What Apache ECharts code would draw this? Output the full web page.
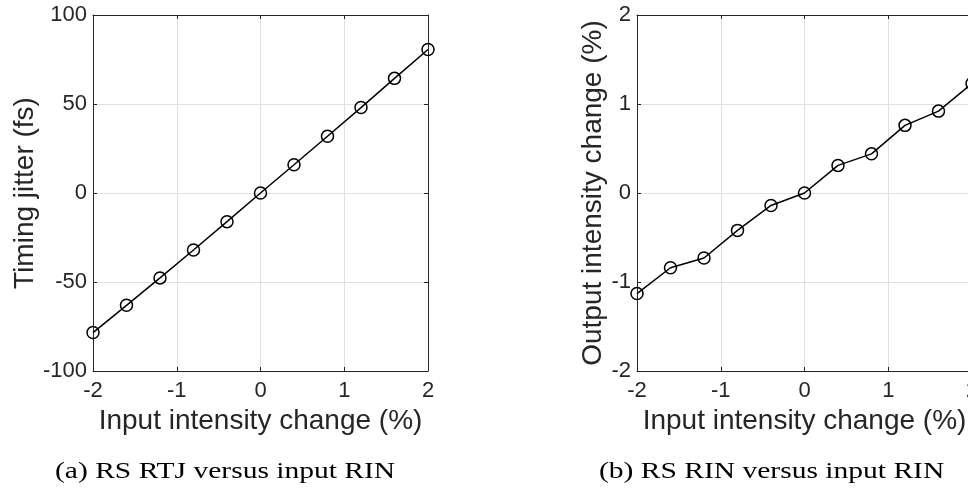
<!DOCTYPE html>
<html>
<head>
<meta charset="utf-8">
<script src="https://cdn.jsdelivr.net/npm/echarts@6/dist/echarts.min.js"></script>
<style>
  html, body { margin: 0; padding: 0; background: #fff; }
  #chart { width: 968px; height: 491px; }
</style>
</head>
<body>
<div id="chart"></div>
<script>
// Input intensity change (%) at which both quantities were sampled
const inputChange = [-2, -1.6, -1.2, -0.8, -0.4, 0, 0.4, 0.8, 1.2, 1.6, 2];
// (a) retimed timing jitter (fs)
const timingJitter = [-78.4, -63.1, -47.7, -32.0, -16.1, 0, 15.9, 31.9, 48.0, 64.4, 80.6];
// (b) output intensity change (%)
const outputChange = [-1.13, -0.84, -0.73, -0.42, -0.14, 0, 0.31, 0.44, 0.76, 0.92, 1.23];

const xTicks = { min: -2, max: 2, interval: 1 };
const jitterTicks = { min: -100, max: 100, interval: 50 };
const outputTicks = { min: -2, max: 2, interval: 1 };

const captionA = '(a) RS RTJ versus input RIN';
const captionB = '(b) RS RIN versus input RIN';
const xTitle = 'Input intensity change (%)';
const yTitleA = 'Timing jitter (fs)';
const yTitleB = 'Output intensity change (%)';

const INK = '#262626';
const GRID = '#dfdfdf';
const SANS = '"Liberation Sans", Arial, sans-serif';

function pairs(xs, ys) { return xs.map((x, i) => [x, ys[i]]); }

function mainX(gridIndex) {
  return {
    type: 'value', gridIndex, position: 'bottom',
    min: xTicks.min, max: xTicks.max, interval: xTicks.interval,
    name: xTitle, nameLocation: 'middle', nameGap: 35,
    nameTextStyle: { fontFamily: SANS, fontSize: 28, color: INK },
    axisLine: { show: true, onZero: false, lineStyle: { color: INK, width: 1 } },
    axisTick: { show: true, inside: true, length: 4, lineStyle: { color: INK } },
    axisLabel: { fontFamily: SANS, fontSize: 22, color: INK, margin: 9 },
    splitLine: { show: true, lineStyle: { color: GRID, width: 1 } }
  };
}
function topX(gridIndex) {
  return {
    type: 'value', gridIndex, position: 'top',
    min: xTicks.min, max: xTicks.max, interval: xTicks.interval,
    axisLine: { show: true, onZero: false, lineStyle: { color: INK, width: 1 } },
    axisTick: { show: true, inside: true, length: 4, lineStyle: { color: INK } },
    axisLabel: { show: false }, splitLine: { show: false }
  };
}
function mainY(gridIndex, ticks, title, gap) {
  return {
    type: 'value', gridIndex, position: 'left',
    min: ticks.min, max: ticks.max, interval: ticks.interval,
    name: title, nameLocation: 'middle', nameGap: gap,
    nameTextStyle: { fontFamily: SANS, fontSize: 28, color: INK },
    axisLine: { show: true, onZero: false, lineStyle: { color: INK, width: 1 } },
    axisTick: { show: true, inside: true, length: 4, lineStyle: { color: INK } },
    axisLabel: { fontFamily: SANS, fontSize: 22, color: INK, margin: 6 },
    splitLine: { show: true, lineStyle: { color: GRID, width: 1 } }
  };
}
function rightY(gridIndex, ticks) {
  return {
    type: 'value', gridIndex, position: 'right',
    min: ticks.min, max: ticks.max, interval: ticks.interval,
    axisLine: { show: true, onZero: false, lineStyle: { color: INK, width: 1 } },
    axisTick: { show: true, inside: true, length: 4, lineStyle: { color: INK } },
    axisLabel: { show: false }, splitLine: { show: false }
  };
}
function curve(xIdx, yIdx, ys) {
  return {
    type: 'line', xAxisIndex: xIdx, yAxisIndex: yIdx,
    data: pairs(inputChange, ys),
    symbol: 'circle', symbolSize: 12, showAllSymbol: true,
    lineStyle: { color: '#000', width: 1.5 },
    itemStyle: { color: 'rgba(0,0,0,0)', borderColor: '#000', borderWidth: 1.5 },
    emphasis: { disabled: true }, z: 5
  };
}
function caption(text, left, baseline, scaleX) {
  return {
    type: 'text', x: left, y: baseline, scaleX: scaleX, originX: 0, originY: 0,
    style: {
      text, x: 0, y: 0, fill: '#000',
      font: '24px "Liberation Serif", "Times New Roman", serif',
      textAlign: 'left', textVerticalAlign: 'bottom'
    }
  };
}

const chart = echarts.init(document.getElementById('chart'), null, { renderer: 'canvas' });
chart.setOption({
  animation: false,
  backgroundColor: '#fff',
  grid: [
    { left: 93, top: 15, width: 335, height: 356, containLabel: false, outerBoundsMode: 'none' },
    { left: 637, top: 15, width: 335, height: 356, containLabel: false, outerBoundsMode: 'none' }
  ],
  xAxis: [mainX(0), topX(0), mainX(1), topX(1)],
  yAxis: [
    mainY(0, jitterTicks, yTitleA, 51), rightY(0, jitterTicks),
    mainY(1, outputTicks, yTitleB, 30), rightY(1, outputTicks)
  ],
  series: [curve(0, 0, timingJitter), curve(2, 2, outputChange)],
  graphic: [
    caption(captionA, 55, 484, 1.23),
    caption(captionB, 599, 484, 1.23)
  ]
});
</script>
</body>
</html>
